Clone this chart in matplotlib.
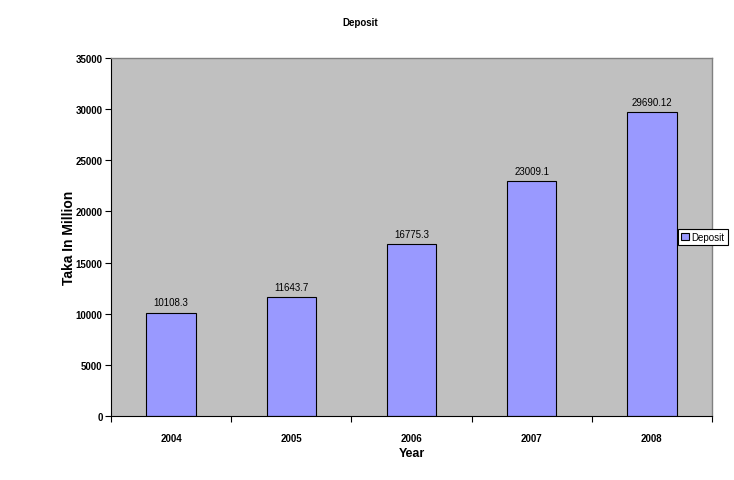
import matplotlib
matplotlib.use('Agg')
import matplotlib.pyplot as plt
import numpy as np

years = ['2004', '2005', '2006', '2007', '2008']
deposit = [10108.3, 11643.7, 16775.3, 23009.1, 29690.12]
labels = ['10108.3', '11643.7', '16775.3', '23009.1', '29690.12']

plt.rcParams['font.family'] = ['Liberation Sans', 'DejaVu Sans']

fig = plt.figure(figsize=(7.34, 4.81), dpi=100)
ax = fig.add_axes([0.1512, 0.1331, 0.8188, 0.7443])
ax.set_facecolor('#C0C0C0')

x = np.arange(len(years))
bars = ax.bar(x, deposit, width=0.41, color='#9999FF', edgecolor='black', linewidth=0.8, label='Deposit')
for xi, v, t in zip(x, deposit, labels):
    ax.text(xi, v + 500, t, ha='center', va='bottom', fontsize=7)

ax.set_xlim(-0.5, len(years) - 0.5)
ax.set_ylim(0, 35000)
ax.set_yticks(np.arange(0, 35001, 5000))
ax.set_yticklabels([str(v) for v in range(0, 35001, 5000)], fontsize=7, fontweight='bold')
ax.set_xticks(np.arange(-0.5, len(years), 1.0))
ax.set_xticklabels([])
ax.set_xticks(x, minor=True)
ax.set_xticklabels(years, minor=True, fontsize=7, fontweight='bold')
ax.tick_params(axis='x', which='minor', length=0, pad=12)
ax.tick_params(axis='x', which='major', length=4, direction='out')
ax.tick_params(axis='y', length=4, direction='out', pad=2)

for s in ['top', 'right']:
    ax.spines[s].set_color('#808080')
    ax.spines[s].set_linewidth(1.0)
ax.spines['left'].set_color('black')
ax.spines['bottom'].set_color('black')

ax.set_ylabel('Taka In Million', fontsize=10, fontweight='bold', labelpad=0)
ax.set_xlabel('Year', fontsize=9, fontweight='bold', labelpad=3)
fig.text(360 / 734, 1 - 23 / 481, 'Deposit', ha='center', va='center', fontsize=7, fontweight='bold')

leg = ax.legend(loc='center left', bbox_to_anchor=(678 / 734, 1 - 238 / 481),
                bbox_transform=fig.transFigure, fontsize=7, frameon=True, fancybox=False,
                borderpad=0.3, handlelength=0.8, handleheight=0.8, handletextpad=0.3,
                borderaxespad=0)
leg.get_frame().set_edgecolor('black')
leg.get_frame().set_linewidth(0.8)
leg.get_frame().set_facecolor('white')
leg.get_frame().set_alpha(1)

fig.savefig('out.png', dpi=100)
